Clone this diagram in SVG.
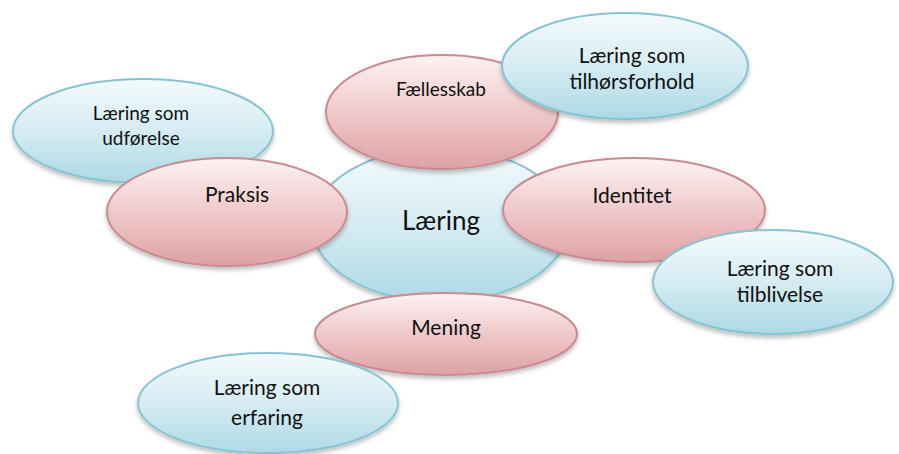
<svg xmlns="http://www.w3.org/2000/svg" width="899" height="454" viewBox="0 0 899 454">
<defs>
<linearGradient id="gb" x1="0" y1="0" x2="0" y2="1">
<stop offset="0" stop-color="#f4fafc"/>
<stop offset="0.5" stop-color="#d6ecf2"/>
<stop offset="1" stop-color="#acd9e5"/>
</linearGradient>
<linearGradient id="gp" x1="0" y1="0" x2="0" y2="1">
<stop offset="0" stop-color="#fdf3f3"/>
<stop offset="0.5" stop-color="#efc9cb"/>
<stop offset="1" stop-color="#dea1a5"/>
</linearGradient>
<filter id="sh" x="-10%" y="-10%" width="120%" height="130%">
<feDropShadow dx="0" dy="3" stdDeviation="2" flood-color="#000" flood-opacity="0.25"/>
</filter>
<style>
.b{fill:url(#gb);stroke:#86c4d3;stroke-width:2;filter:url(#sh)}
.p{fill:url(#gp);stroke:#c98b90;stroke-width:2;filter:url(#sh)}
text{font-family:Lato,"Liberation Sans",sans-serif;fill:#111;text-anchor:middle}
.s{font-size:19px}
.m{font-size:21px}
.c{font-size:26px}
</style>
</defs>
<rect width="899" height="454" fill="#fff"/>
<g id="laering">
<ellipse class="b" cx="440" cy="225" rx="128" ry="77"/>
<text class="c" x="441" y="230">Læring</text>
</g>
<g id="udforelse">
<ellipse class="b" cx="143" cy="131" rx="130" ry="52"/>
<text class="s" x="141" y="120">Læring som</text>
<text class="s" x="141" y="145">udførelse</text>
</g>
<g id="praksis">
<ellipse class="p" cx="227" cy="212" rx="120" ry="54"/>
<text class="m" x="237" y="202">Praksis</text>
</g>
<g id="faellesskab">
<ellipse class="p" cx="442" cy="112" rx="116" ry="57"/>
<text class="s" x="441" y="96">Fællesskab</text>
</g>
<g id="tilhorsforhold">
<ellipse class="b" cx="625" cy="66" rx="123" ry="53"/>
<text class="m" x="632" y="63">Læring som</text>
<text class="m" x="632" y="89">tilhørsforhold</text>
</g>
<g id="identitet">
<ellipse class="p" cx="634" cy="210" rx="131" ry="52"/>
<text class="m" x="632" y="203">Identitet</text>
</g>
<g id="tilblivelse">
<ellipse class="b" cx="773" cy="282" rx="120" ry="52"/>
<text class="m" x="780" y="276">Læring som</text>
<text class="m" x="780" y="302">tilblivelse</text>
</g>
<g id="mening">
<ellipse class="p" cx="446" cy="334" rx="131" ry="41"/>
<text class="m" x="446" y="335">Mening</text>
</g>
<g id="erfaring">
<ellipse class="b" cx="268" cy="403" rx="130" ry="50"/>
<text class="m" x="267" y="395">Læring som</text>
<text class="m" x="267" y="425">erfaring</text>
</g>
<g id="connectors"></g>
</svg>
